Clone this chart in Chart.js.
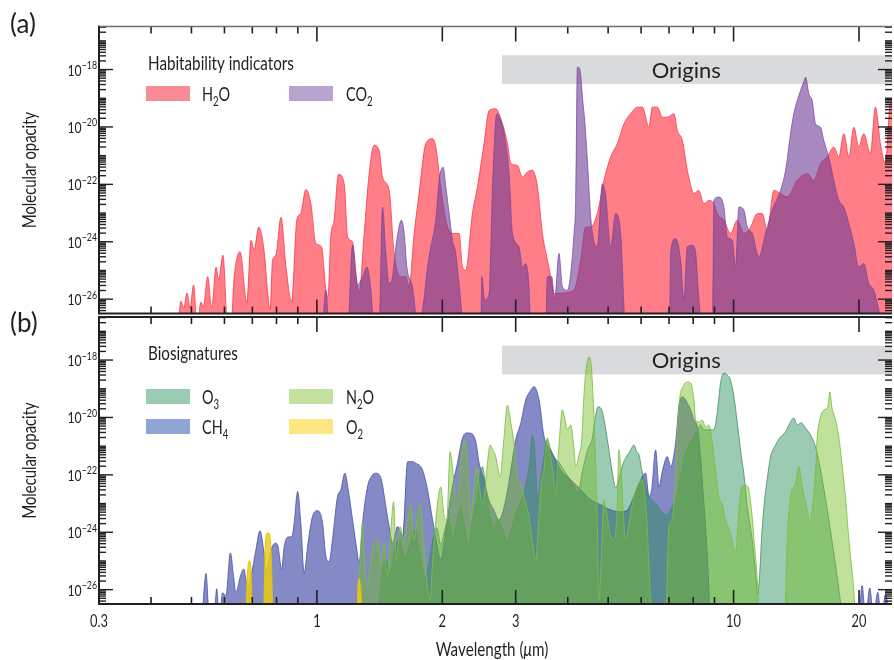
<!DOCTYPE html>
<html>
<head>
<meta charset="utf-8">
<title>Molecular opacity</title>
<script src="https://cdn.jsdelivr.net/npm/chart.js@4.4.1/dist/chart.umd.min.js"></script>
<style>
  html, body { margin: 0; padding: 0; background: #fff; }
  #wrap { position: relative; width: 894px; height: 660px; overflow: hidden; }
  canvas { position: absolute; left: 0; }
  #panelA { top: 0; }
  #panelB { top: 300px; }
</style>
</head>
<body>
<div id="wrap">
  <canvas id="panelA" width="894" height="316"></canvas>
  <canvas id="panelB" width="894" height="360"></canvas>
</div>
<script>
// each point: [wavelength in micron, log10 of the opacity]
const h2oSpectrum = [[0.464,-27],[0.472,-26.07],[0.479,-26.31],[0.488,-25.79],[0.496,-26.31],[0.506,-25.51],[0.516,-27],[0.527,-26.10],[0.534,-26.28],[0.547,-25.22],[0.559,-26.31],[0.573,-24.89],[0.581,-25.34],[0.595,-24.47],[0.611,-27],[0.622,-27],[0.633,-25.27],[0.654,-24.35],[0.679,-26.14],[0.695,-23.95],[0.707,-24.30],[0.725,-23.49],[0.748,-24.40],[0.762,-25.79],[0.772,-26.38],[0.783,-24.64],[0.797,-24.47],[0.820,-23.15],[0.843,-24.88],[0.870,-26.09],[0.895,-23.25],[0.915,-23.01],[0.941,-22.18],[0.967,-22.67],[0.994,-24.05],[1.026,-24.18],[1.051,-25.69],[1.063,-25.92],[1.080,-23.83],[1.100,-23.25],[1.127,-21.65],[1.163,-21.98],[1.185,-23.83],[1.218,-24.01],[1.240,-25.10],[1.263,-25.79],[1.299,-23.70],[1.335,-21.62],[1.372,-20.64],[1.411,-20.82],[1.437,-21.75],[1.491,-22.21],[1.532,-24.40],[1.590,-25.22],[1.634,-25.22],[1.664,-25.57],[1.712,-23.71],[1.759,-22.32],[1.826,-20.58],[1.895,-20.41],[1.929,-20.70],[1.983,-22.09],[2.058,-23.49],[2.135,-23.71],[2.194,-23.71],[2.236,-24.88],[2.277,-24.99],[2.362,-23.02],[2.429,-22.09],[2.519,-20.58],[2.590,-19.43],[2.688,-19.37],[2.788,-19.89],[2.867,-20.58],[2.920,-21.28],[3.029,-21.34],[3.113,-21.75],[3.201,-21.57],[3.290,-21.51],[3.383,-22.09],[3.477,-23.71],[3.574,-24.64],[3.641,-25.22],[3.709,-25.80],[3.847,-25.79],[4.140,-25.69],[4.297,-24.64],[4.417,-23.49],[4.541,-23.49],[4.711,-23.01],[4.887,-21.86],[5.070,-21.05],[5.262,-20.58],[5.458,-19.89],[5.662,-19.54],[5.876,-19.31],[6.040,-19.31],[6.265,-20.01],[6.383,-19.31],[6.561,-19.31],[6.745,-19.66],[6.946,-19.66],[7.193,-19.54],[7.328,-20.12],[7.534,-20.47],[7.745,-21.51],[8.034,-22.32],[8.241,-22.21],[8.489,-22.67],[8.726,-22.56],[8.971,-22.67],[9.141,-23.02],[9.478,-23.25],[9.835,-23.71],[10.21,-23.25],[10.59,-23.71],[10.99,-23.49],[11.40,-23.02],[11.72,-23.02],[12.04,-23.60],[12.50,-22.21],[12.96,-22.32],[13.45,-22.44],[14.22,-21.86],[15.02,-21.63],[15.58,-21.86],[16.17,-21.28],[16.78,-21.05],[17.40,-20.70],[17.89,-21.05],[18.39,-20.24],[18.91,-21.05],[19.44,-20.01],[19.97,-20.70],[20.53,-20.24],[21.30,-20.93],[21.90,-19.31],[22.51,-20.58],[23.14,-21.28],[23.80,-19.19],[24.5,-19.2]];

const co2Spectrum = [[1.032,-27],[1.051,-25.69],[1.070,-27],[1.185,-27],[1.218,-24.12],[1.252,-25.51],[1.287,-25.22],[1.318,-24.88],[1.348,-25.69],[1.372,-27],[1.411,-27],[1.437,-22.79],[1.464,-24.40],[1.491,-25.45],[1.519,-25.22],[1.547,-24.18],[1.596,-23.25],[1.620,-23.71],[1.644,-24.88],[1.696,-25.57],[1.750,-27],[1.806,-26.03],[1.843,-24.88],[1.877,-24.18],[1.929,-23.25],[1.965,-21.86],[2.009,-21.40],[2.039,-22.09],[2.077,-23.02],[2.116,-23.95],[2.154,-24.41],[2.194,-25.45],[2.255,-27],[2.474,-27],[2.488,-25.22],[2.529,-26.03],[2.590,-25.80],[2.639,-22.09],[2.702,-19.54],[2.762,-19.77],[2.814,-20.24],[2.892,-21.63],[2.947,-23.71],[3.056,-24.18],[3.113,-24.88],[3.171,-24.76],[3.229,-25.57],[3.260,-27],[3.541,-27],[3.574,-25.22],[3.660,-25.22],[3.721,-26.03],[3.811,-24.41],[3.884,-25.57],[3.993,-25.69],[4.066,-25.11],[4.140,-23.71],[4.179,-22.56],[4.219,-17.92],[4.273,-17.97],[4.297,-18.21],[4.345,-19.08],[4.393,-19.77],[4.459,-21.17],[4.541,-23.14],[4.617,-23.95],[4.711,-24.18],[4.843,-21.98],[4.932,-22.38],[5.070,-24.18],[5.212,-23.02],[5.358,-23.71],[5.508,-27],[7.022,-27],[7.061,-24.41],[7.259,-23.89],[7.463,-24.64],[7.600,-26.03],[7.745,-24.18],[7.961,-24.12],[8.109,-24.41],[8.258,-26.03],[8.414,-27],[8.904,-27],[8.971,-22.56],[9.222,-22.44],[9.478,-22.79],[9.658,-23.83],[9.929,-23.95],[10.11,-24.88],[10.30,-22.79],[10.59,-22.90],[10.79,-23.49],[11.09,-23.71],[11.50,-24.53],[11.93,-23.71],[12.38,-22.90],[12.96,-22.21],[13.33,-21.51],[13.70,-20.24],[13.95,-19.54],[14.48,-18.73],[14.72,-18.45],[14.89,-18.27],[15.16,-18.85],[15.44,-19.08],[15.73,-19.89],[16.17,-20.01],[16.46,-20.47],[16.92,-21.05],[17.40,-21.86],[17.89,-22.56],[18.39,-22.79],[18.91,-23.37],[19.44,-24.06],[19.97,-24.88],[20.53,-24.76],[21.11,-25.45],[21.70,-25.69],[22.31,-26.38],[22.73,-27]];

const ch4Spectrum = [[0.530,-27],[0.542,-25.44],[0.552,-27],[0.566,-27],[0.575,-25.97],[0.583,-27],[0.594,-26.11],[0.605,-26.21],[0.620,-24.72],[0.631,-25.54],[0.639,-26.11],[0.655,-25.54],[0.667,-25.28],[0.682,-25.89],[0.695,-25.54],[0.714,-24.61],[0.730,-23.95],[0.745,-24.61],[0.755,-25.30],[0.776,-24.61],[0.794,-24.38],[0.806,-24.47],[0.823,-25.30],[0.835,-24.49],[0.851,-24.17],[0.871,-24.15],[0.882,-23.68],[0.899,-22.58],[0.915,-23.68],[0.932,-25.42],[0.950,-24.49],[0.976,-23.45],[1.004,-23.25],[1.032,-23.68],[1.051,-24.84],[1.070,-25.02],[1.090,-24.26],[1.121,-22.75],[1.142,-22.52],[1.167,-21.94],[1.189,-22.52],[1.218,-23.57],[1.247,-24.61],[1.263,-25.07],[1.287,-23.68],[1.323,-22.41],[1.355,-22.03],[1.385,-21.94],[1.424,-22.10],[1.464,-23.10],[1.491,-23.80],[1.519,-24.38],[1.562,-23.80],[1.606,-24.15],[1.651,-21.54],[1.696,-21.54],[1.727,-21.59],[1.793,-21.83],[1.843,-22.52],[1.895,-23.57],[1.941,-24.43],[1.983,-24.96],[2.039,-23.91],[2.108,-22.52],[2.175,-21.59],[2.236,-20.72],[2.290,-20.54],[2.341,-20.55],[2.406,-20.84],[2.451,-21.59],[2.519,-22.17],[2.585,-22.87],[2.658,-23.22],[2.733,-23.57],[2.840,-22.87],[2.920,-21.83],[3.000,-20.78],[3.085,-20.20],[3.171,-19.39],[3.242,-19.11],[3.320,-18.93],[3.413,-19.39],[3.509,-20.67],[3.641,-21.13],[3.742,-21.48],[3.847,-21.83],[4.066,-22.17],[4.297,-22.52],[4.541,-22.87],[4.798,-23.04],[5.070,-23.22],[5.358,-23.29],[5.561,-23.22],[5.767,-22.75],[6.040,-22.06],[6.152,-21.94],[6.265,-22.75],[6.360,-22.52],[6.501,-21.13],[6.621,-22.41],[6.757,-21.83],[6.934,-21.36],[7.062,-21.71],[7.259,-20.90],[7.393,-19.62],[7.534,-19.28],[7.672,-19.39],[7.886,-19.74],[8.034,-20.09],[8.185,-20.32],[8.305,-21.13],[8.477,-22.87],[8.665,-24.96],[8.808,-27],[19.94,-27],[20.35,-25.86],[20.73,-27],[21.23,-25.94],[21.66,-27],[22.18,-26.09],[22.64,-27],[23.14,-26.17],[23.67,-27]];

const o3Spectrum = [[1.400,-27],[1.432,-25.48],[1.464,-24.96],[1.497,-25.48],[1.539,-24.54],[1.582,-24.26],[1.626,-24.89],[1.672,-24.43],[1.719,-23.91],[1.766,-24.68],[1.816,-25.58],[1.856,-25.13],[1.898,-24.26],[1.940,-23.84],[1.983,-24.43],[2.028,-23.91],[2.073,-23.50],[2.119,-24.26],[2.166,-23.64],[2.215,-23.15],[2.265,-23.84],[2.315,-24.43],[2.367,-23.50],[2.419,-22.80],[2.497,-21.72],[2.543,-22.52],[2.600,-23.39],[2.658,-23.84],[2.717,-23.57],[2.778,-23.84],[2.856,-24.26],[2.936,-23.84],[3.018,-23.22],[3.102,-22.87],[3.188,-22.17],[3.242,-21.55],[3.291,-20.61],[3.333,-21.13],[3.388,-22.87],[3.445,-22.10],[3.502,-21.41],[3.574,-20.78],[3.641,-21.13],[3.721,-21.41],[3.805,-21.55],[3.912,-21.83],[4.021,-22.10],[4.133,-22.38],[4.225,-22.63],[4.345,-21.83],[4.466,-21.13],[4.584,-20.71],[4.668,-19.91],[4.727,-19.63],[4.843,-19.81],[4.979,-20.78],[5.119,-21.93],[5.213,-22.45],[5.330,-22.03],[5.418,-21.65],[5.509,-21.41],[5.631,-21.20],[5.768,-20.96],[5.854,-21.20],[5.928,-21.30],[6.040,-21.93],[6.186,-22.52],[6.359,-22.87],[6.537,-23.04],[6.720,-23.29],[6.908,-23.39],[7.101,-23.15],[7.300,-22.70],[7.504,-21.83],[7.714,-21.13],[7.930,-20.78],[8.152,-20.50],[8.334,-20.26],[8.487,-20.43],[8.710,-20.43],[8.969,-20.43],[9.138,-19.84],[9.307,-18.80],[9.479,-18.45],[9.658,-18.52],[9.835,-18.70],[10.02,-19.29],[10.21,-20.19],[10.39,-21.13],[10.59,-22.00],[10.79,-23.11],[11.08,-24.26],[11.29,-25.41],[11.42,-26.17],[11.55,-25.48],[11.67,-24.26],[11.84,-23.04],[12.04,-22.17],[12.27,-21.37],[12.61,-20.96],[12.96,-20.68],[13.33,-20.50],[13.58,-20.26],[13.95,-20.02],[14.21,-20.26],[14.54,-20.19],[14.88,-20.37],[15.30,-20.61],[15.73,-21.03],[16.17,-21.83],[16.71,-23.04],[17.28,-24.43],[17.77,-25.65],[18.26,-27]];

const n2oSpectrum = [[1.247,-27],[1.268,-25.30],[1.287,-23.64],[1.304,-25.48],[1.326,-25.83],[1.348,-24.96],[1.371,-24.43],[1.398,-24.26],[1.424,-25.13],[1.450,-24.37],[1.476,-25.48],[1.505,-23.91],[1.528,-22.94],[1.551,-24.96],[1.585,-23.81],[1.618,-24.43],[1.644,-23.74],[1.681,-23.04],[1.709,-24.26],[1.738,-23.57],[1.769,-23.01],[1.796,-24.09],[1.836,-25.65],[1.867,-26.35],[1.898,-24.96],[1.940,-23.22],[1.983,-22.42],[2.017,-23.39],[2.050,-23.57],[2.088,-21.20],[2.119,-21.83],[2.154,-22.87],[2.191,-22.52],[2.227,-21.30],[2.268,-20.78],[2.302,-21.83],[2.341,-23.57],[2.380,-22.52],[2.419,-21.72],[2.460,-22.52],[2.501,-23.04],[2.557,-21.83],[2.604,-20.96],[2.643,-21.13],[2.687,-21.37],[2.752,-22.07],[2.809,-20.78],[2.867,-19.57],[2.912,-20.09],[2.973,-20.89],[3.029,-22.07],[3.085,-22.28],[3.154,-22.87],[3.230,-23.46],[3.296,-24.43],[3.351,-24.96],[3.407,-23.57],[3.464,-22.17],[3.508,-21.83],[3.574,-20.71],[3.631,-21.30],[3.681,-21.83],[3.742,-22.70],[3.805,-21.13],[3.883,-19.74],[3.933,-20.02],[3.988,-20.43],[4.066,-20.26],[4.133,-20.96],[4.179,-21.72],[4.257,-21.30],[4.321,-20.78],[4.369,-19.39],[4.417,-18.45],[4.499,-17.89],[4.554,-18.21],[4.604,-19.39],[4.655,-21.13],[4.707,-23.57],[4.753,-26.35],[4.811,-24.96],[4.887,-22.87],[4.988,-23.57],[5.127,-24.26],[5.242,-23.57],[5.309,-21.13],[5.374,-22.00],[5.509,-24.26],[5.631,-23.57],[5.768,-22.76],[6.040,-22.17],[6.186,-23.57],[6.383,-27],[6.870,-27],[6.996,-23.81],[7.128,-23.57],[7.260,-21.93],[7.393,-19.63],[7.601,-18.87],[7.744,-18.77],[7.887,-18.80],[8.032,-19.39],[8.107,-20.09],[8.256,-20.16],[8.412,-20.09],[8.567,-20.33],[8.725,-20.26],[8.890,-20.89],[9.053,-21.83],[9.220,-22.76],[9.395,-23.04],[9.568,-23.57],[9.835,-24.02],[10.11,-24.71],[10.24,-23.81],[10.39,-22.63],[10.59,-22.35],[10.83,-22.42],[11.02,-23.11],[11.23,-24.50],[11.40,-25.65],[11.52,-27],[13.26,-27],[13.46,-24.16],[13.70,-22.77],[14.08,-22.28],[14.35,-21.72],[14.62,-22.42],[15.02,-23.22],[15.24,-23.67],[15.44,-23.22],[15.73,-21.83],[15.88,-20.68],[16.17,-19.98],[16.47,-19.74],[16.83,-19.63],[17.02,-19.11],[17.21,-19.63],[17.57,-20.09],[17.89,-20.68],[18.23,-21.72],[18.56,-22.77],[18.80,-23.81],[19.08,-24.85],[19.37,-25.76],[19.62,-27]];

const o2Spectrum = [[0.674,-27],[0.681,-25.48],[0.688,-24.99],[0.695,-25.30],[0.702,-27],[0.744,-27],[0.752,-24.43],[0.761,-24.03],[0.769,-24.05],[0.778,-24.96],[0.785,-27],[1.244,-27],[1.257,-25.72],[1.264,-25.62],[1.275,-26.00],[1.286,-27]];

// axes
const wavelengthRange = [0.3, 24];
const logOpacityRange = [-26.5, -16.5];
const xLabelTicks = [0.3, 1, 2, 3, 10, 20];
const xLabelText = ['0.3', '1', '2', '3', '10', '20'];
const xMinorTicks = [0.4, 0.5, 0.6, 0.7, 0.8, 0.9, 4, 5, 6, 7, 8, 9];
const yLabelExps = [-26, -24, -22, -20, -18];
const originsBand = { from: 2.78, lowExp: -18.5, highExp: -17.5, labelAt: 7.7 };

const ink = '#231f20';
const squeeze = 0.78;

function fontStr(size, italic) { return (italic ? 'italic ' : '') + size + 'px Lato, "Open Sans", sans-serif'; }

// draws a row of text pieces (for sub/superscripts), squeezed horizontally
function drawRuns(ctx, runs, x, y, align, sx) {
  ctx.save();
  let total = 0;
  const widths = runs.map(r => {
    ctx.font = fontStr(r.size, r.italic);
    const w = ctx.measureText(r.text).width;
    total += w;
    return w;
  });
  ctx.translate(x, y);
  ctx.scale(sx, 1);
  let cx = align === 'center' ? -total / 2 : align === 'right' ? -total : 0;
  ctx.textAlign = 'left';
  ctx.textBaseline = 'alphabetic';
  runs.forEach((r, i) => {
    ctx.font = fontStr(r.size, r.italic);
    ctx.fillText(r.text, cx, r.dy || 0);
    cx += widths[i];
  });
  ctx.restore();
}

function formula(parts) {
  // parts like ['H', 2, 'O'] -> numbers become subscripts
  return parts.map(p => typeof p === 'number'
    ? { text: String(p), size: 13, dy: 5 }
    : { text: p, size: 19.5 });
}

function area(label, spectrum, fill, line) {
  return {
    label,
    data: spectrum.map(p => ({ x: p[0], y: Math.pow(10, p[1]) })),
    backgroundColor: fill,
    borderColor: line,
    borderWidth: 1,
    fill: 'start',
    pointRadius: 0,
    cubicInterpolationMode: 'monotone',
    clip: 0
  };
}

const decor = {
  id: 'decor',
  beforeDatasetsDraw(chart, args, o) {
    const ctx = chart.ctx, xs = chart.scales.x, ys = chart.scales.y, a = chart.chartArea;
    const x0 = xs.getPixelForValue(originsBand.from);
    const y0 = ys.getPixelForValue(Math.pow(10, originsBand.highExp));
    const y1 = ys.getPixelForValue(Math.pow(10, originsBand.lowExp));
    ctx.save();
    ctx.fillStyle = '#d9dadc';
    ctx.fillRect(x0, y0, a.right - x0, y1 - y0);
    ctx.fillStyle = ink;
    ctx.font = fontStr(22);
    ctx.textAlign = 'center';
    ctx.textBaseline = 'alphabetic';
    ctx.fillText('Origins', xs.getPixelForValue(originsBand.labelAt), (y0 + y1) / 2 + 8);
    ctx.restore();
  },
  afterDraw(chart, args, o) {
    const ctx = chart.ctx, xs = chart.scales.x, ys = chart.scales.y, a = chart.chartArea;
    ctx.save();
    ctx.strokeStyle = ink;
    ctx.fillStyle = ink;
    const seg = (x1, y1, x2, y2, w) => {
      ctx.lineWidth = w;
      ctx.beginPath(); ctx.moveTo(x1, y1); ctx.lineTo(x2, y2); ctx.stroke();
    };
    // x ticks, top and bottom, pointing in
    xLabelTicks.forEach(v => {
      const px = xs.getPixelForValue(v);
      if (px < a.left + 3) return;
      seg(px, a.top, px, a.top + 15, 1.6);
      seg(px, a.bottom, px, a.bottom - 14, 1.6);
    });
    xMinorTicks.forEach(v => {
      const px = xs.getPixelForValue(v);
      seg(px, a.top, px, a.top + 7, 1.6);
      seg(px, a.bottom, px, a.bottom - 7, 1.6);
    });
    // y ticks, left and right
    for (let n = -27; n <= -17; n++) {
      for (let k = 1; k <= 9; k++) {
        const e = n + Math.log10(k);
        if (e < logOpacityRange[0] || e > logOpacityRange[1]) continue;
        const major = k === 1 && yLabelExps.includes(n);
        const py = ys.getPixelForValue(k * Math.pow(10, n));
        const len = major ? 14 : 7;
        seg(a.left, py, a.left + len, py, 1.4);
        seg(a.right, py, a.right - len, py, 1.4);
      }
    }
    // frame
    seg(a.left, a.top - 1, a.left, a.bottom + 1, 2);
    if (o.grayTop) {
      ctx.strokeStyle = '#6d6e71';
      seg(a.left, a.top, a.right, a.top, 1.3);
      ctx.strokeStyle = ink;
    } else {
      seg(a.left, a.top, a.right, a.top, 2);
    }
    seg(a.left, a.bottom, a.right, a.bottom, 2);

    // y tick labels 10^n
    yLabelExps.forEach(e => {
      const py = ys.getPixelForValue(Math.pow(10, e));
      drawRuns(ctx, [{ text: '10', size: 14.5 }, { text: '\u2212' + Math.abs(e), size: 10.5, dy: -6.5 }],
        a.left - 2, py + 6, 'right', 0.84);
    });

    // y title
    ctx.save();
    ctx.translate(36, (a.top + a.bottom) / 2);
    ctx.rotate(-Math.PI / 2);
    drawRuns(ctx, [{ text: 'Molecular opacity', size: 18.5 }], 0, 0, 'center', 0.8);
    ctx.restore();

    // panel letter
    ctx.font = fontStr(26);
    ctx.textAlign = 'left';
    ctx.textBaseline = 'alphabetic';
    ctx.fillText(o.letter, 10, o.letterY);

    // legend
    drawRuns(ctx, [{ text: o.legendTitle, size: 19.5 }], 148, o.titleY, 'left', squeeze);
    o.items.forEach(it => {
      const sx = it.col === 0 ? 146 : 289;
      const tx = it.col === 0 ? 202 : 346;
      const top = o.rowTops[it.row];
      ctx.fillStyle = it.swatch;
      ctx.fillRect(sx, top, 44, 15);
      ctx.fillStyle = ink;
      drawRuns(ctx, formula(it.name), tx, top + 15, 'left', 0.74);
    });

    // x labels and title on the lower panel
    if (o.xLabels) {
      xLabelTicks.forEach((v, i) => {
        drawRuns(ctx, [{ text: xLabelText[i], size: 16.5 }], xs.getPixelForValue(v), a.bottom + 23, 'center', squeeze);
      });
      drawRuns(ctx, [
        { text: 'Wavelength (', size: 19 },
        { text: '\u03bc', size: 19, italic: true },
        { text: 'm)', size: 19 }
      ], 492, a.bottom + 52, 'center', 0.8);
    }
    ctx.restore();
  }
};

function makePanel(id, datasets, pad, decorOpts) {
  return new Chart(document.getElementById(id), {
    type: 'line',
    data: { datasets },
    options: {
      responsive: false,
      animation: false,
      devicePixelRatio: 1,
      events: [],
      layout: { padding: pad },
      elements: { line: { borderJoinStyle: 'round' } },
      scales: {
        x: { type: 'logarithmic', min: wavelengthRange[0], max: wavelengthRange[1], display: false },
        y: { type: 'logarithmic', min: Math.pow(10, logOpacityRange[0]), max: Math.pow(10, logOpacityRange[1]), display: false }
      },
      plugins: { legend: { display: false }, tooltip: { enabled: false }, decor: decorOpts }
    },
    plugins: [decor]
  });
}

// dataset 0 is painted last (on top)
makePanel('panelA', [
  area('CO2', co2Spectrum, 'rgba(110,60,150,0.6)', 'rgba(120,70,160,0.75)'),
  area('H2O', h2oSpectrum, 'rgba(255,40,55,0.6)', 'rgba(255,60,75,0.85)')
], { left: 99, right: 2, top: 26.5, bottom: 2.5 }, {
  letter: '(a)', letterY: 33, grayTop: true,
  legendTitle: 'Habitability indicators', titleY: 70, rowTops: [86],
  items: [
    { name: ['H', 2, 'O'], swatch: '#f98b94', col: 0, row: 0 },
    { name: ['CO', 2], swatch: '#b9a4cf', col: 1, row: 0 }
  ],
  xLabels: false
});

makePanel('panelB', [
  area('O2', o2Spectrum, 'rgba(235,205,20,0.85)', 'rgba(225,195,0,0.9)'),
  area('N2O', n2oSpectrum, 'rgba(115,189,35,0.45)', 'rgba(125,190,65,0.85)'),
  area('O3', o3Spectrum, 'rgba(35,140,87,0.45)', 'rgba(70,140,100,0.8)'),
  area('CH4', ch4Spectrum, 'rgba(50,60,160,0.6)', 'rgba(70,80,170,0.8)')
], { left: 99, right: 2, top: 17, bottom: 56 }, {
  letter: '(b)', letterY: 32, grayTop: false,
  legendTitle: 'Biosignatures', titleY: 60, rowTops: [89, 119],
  items: [
    { name: ['O', 3], swatch: '#9ccbb3', col: 0, row: 0 },
    { name: ['CH', 4], swatch: '#8fa5d3', col: 0, row: 1 },
    { name: ['N', 2, 'O'], swatch: '#c3e09f', col: 1, row: 0 },
    { name: ['O', 2], swatch: '#fde680', col: 1, row: 1 }
  ],
  xLabels: true
});
</script>
</body>
</html>
